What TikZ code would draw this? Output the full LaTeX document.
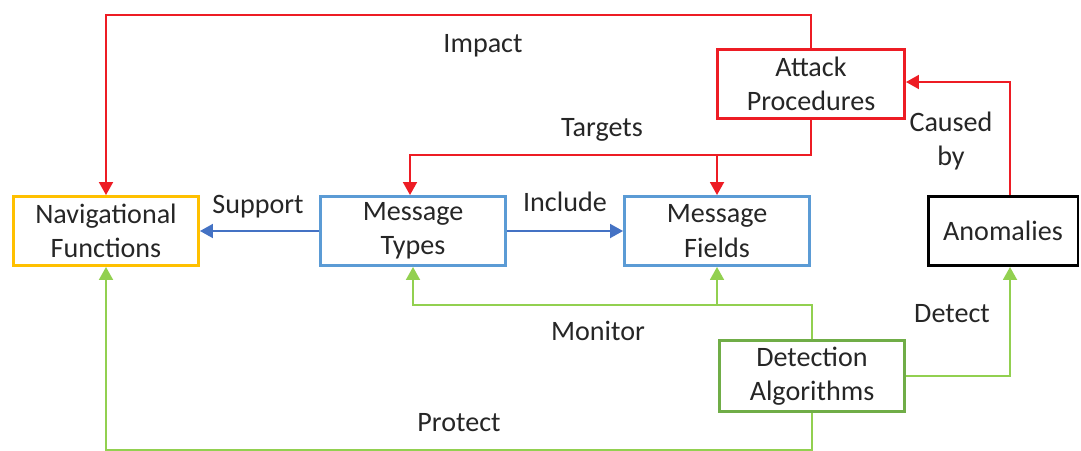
\documentclass[tikz,border=0pt]{standalone}
\usepackage{fontspec}
\setmainfont{Carlito}
\usetikzlibrary{arrows.meta}
\definecolor{atkred}{RGB}{237,28,36}
\definecolor{navyellow}{RGB}{255,192,0}
\definecolor{msgblue}{RGB}{91,155,213}
\definecolor{arrblue}{RGB}{68,114,196}
\definecolor{detgreen}{RGB}{112,173,71}
\definecolor{arrgreen}{RGB}{146,208,80}
\tikzset{
  box/.style={draw, line width=1.7pt, minimum width=3.7cm, minimum height=1.38cm,
    align=center, text=black!85, font=\fontsize{16}{19.5}\selectfont},
  lbl/.style={text=black!85, font=\fontsize{16}{19.5}\selectfont, align=center},
  link/.style={line width=1.1pt, -{Triangle[length=0.26cm, width=0.28cm]}}
}
\begin{document}
\begin{tikzpicture}[x=0.02cm, y=-0.02cm]
\useasboundingbox (0,0) rectangle (1081,450);

% Boxes
\node[box, draw=navyellow] (nf) at (106,231) {Navigational\\Functions};
\node[box, draw=msgblue] (mt) at (413,231) {Message\\Types};
\node[box, draw=msgblue] (mf) at (717,231) {Message\\Fields};
\node[box, draw=atkred, minimum width=3.74cm] (ap) at (811,84) {Attack\\Procedures};
\node[box, draw=black, minimum width=3.0cm] (an) at (1003,231) {Anomalies};
\node[box, draw=detgreen] (da) at (812,376) {Detection\\Algorithms};

% Red links
\draw[link, atkred] (ap.north) -- ++(0,-33) -| (nf.north);
\node[lbl] (impact) at (483,46) {Impact};
\coordinate (tj) at (811,155);
\draw[link, atkred] (ap.south) -- (tj) -| ([xshift=-0.06cm]mt.north);
\draw[link, atkred] (mf.north |- tj) -- (mf.north);
\node[lbl] (targets) at (602,130) {Targets};
\draw[link, atkred] ([xshift=0.14cm]an.north) |- ([yshift=0.04cm]ap.east);
\node[lbl] (causedby) at (951,141) {Caused\\by};

% Blue links
\draw[link, arrblue] (mt.west) -- (nf.east);
\node[lbl] (support) at (258,207) {Support};
\draw[link, arrblue] (mt.east) -- (mf.west);
\node[lbl] (include) at (565,202) {Include};

% Green links
\coordinate (mj) at (812,305);
\draw[link, arrgreen] (da.north) -- (mj) -| (mt.south);
\draw[link, arrgreen] (mf.south |- mj) -- (mf.south);
\node[lbl] (monitor) at (598,331) {Monitor};
\draw[link, arrgreen] (da.east) -| ([xshift=0.14cm]an.south);
\node[lbl] (detect) at (952,314) {Detect};
\draw[link, arrgreen] (da.south) -- ++(0,37) -| (nf.south);
\node[lbl] (protect) at (459,423) {Protect};

\end{tikzpicture}
\end{document}
